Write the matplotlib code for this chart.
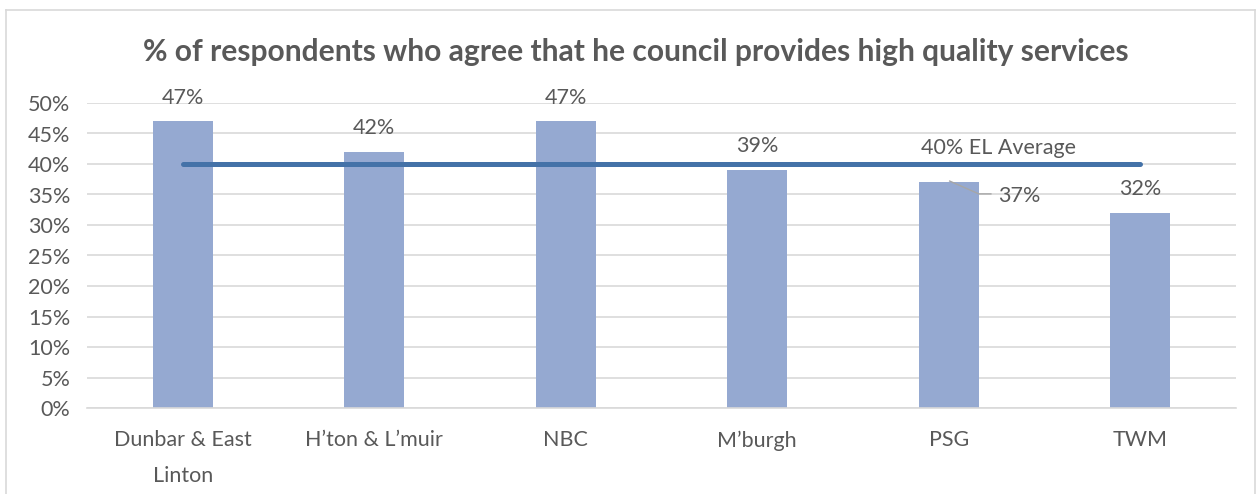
import matplotlib.pyplot as plt
import numpy as np
from matplotlib.lines import Line2D

# data
areas = ['Dunbar & East\nLinton', 'H\u2019ton & L\u2019muir', 'NBC', 'M\u2019burgh', 'PSG', 'TWM']
agree = [0.47, 0.42, 0.47, 0.39, 0.37, 0.32]
el_average = 0.40
yticks = [0, 0.05, 0.10, 0.15, 0.20, 0.25, 0.30, 0.35, 0.40, 0.45, 0.50]

plt.rcParams['font.family'] = ['Lato', 'DejaVu Sans']
text_col = '#595959'
bar_col = '#95a9d1'
line_col = '#4472a8'
fs = 15.5

fig = plt.figure(figsize=(12.6, 4.94), dpi=100, facecolor='white')
ax = fig.add_axes([87 / 1260, 1 - 408 / 494, (1236 - 87) / 1260, (408 - 103) / 494])

x = np.arange(len(areas))
ax.bar(x, agree, width=0.313, color=bar_col, zorder=2)
ax.plot([x[0], x[-1]], [el_average, el_average], color=line_col, lw=3.6,
        solid_capstyle='round', zorder=3)

# data labels
for i, v in enumerate(agree):
    if areas[i] == 'PSG':
        # label moved aside with leader line
        ax.plot([i + 0.005, i + 0.157, i + 0.22], [0.372, 0.351, 0.351],
                color='#a6a6a6', lw=1, zorder=4)
        ax.text(i + 0.37, 0.347, '%d%%' % round(v * 100), ha='center', va='center',
                fontsize=fs, color=text_col)
    else:
        ax.annotate('%d%%' % round(v * 100), (i, v), xytext=(0, 17),
                    textcoords='offset points', ha='center', va='center',
                    fontsize=fs, color=text_col)

ax.text(4.26, 0.427, '%d%% EL Average' % round(el_average * 100), ha='center',
        va='center', fontsize=fs, color=text_col)

ax.set_xlim(-0.5, len(areas) - 0.5)
ax.set_ylim(0, 0.5)
ax.set_yticks(yticks)
ax.set_yticklabels(['%d%%' % round(t * 100) for t in yticks])
ax.set_xticks(x)
ax.set_xticklabels(areas, linespacing=2.0)
ax.tick_params(axis='both', length=0, labelsize=fs, colors=text_col)
ax.tick_params(axis='x', pad=16)
ax.tick_params(axis='y', pad=12)
ax.grid(axis='y', color='#d9d9d9', lw=1.2, zorder=0)
ax.set_axisbelow(True)
for s in ['top', 'right', 'left']:
    ax.spines[s].set_visible(False)
ax.spines['bottom'].set_color('#d9d9d9')
ax.spines['bottom'].set_linewidth(1.2)

fig.text(636 / 1260, 1 - 52 / 494,
         '% of respondents who agree that he council provides high quality services',
         ha='center', va='center', fontsize=21.6, fontweight='bold', color=text_col)

# chart border
bc = '#d9d9d9'
fig.add_artist(Line2D([6 / 1260, 6 / 1260], [0, 1 - 10 / 494], color=bc, lw=1.2))
fig.add_artist(Line2D([6 / 1260, 1255 / 1260], [1 - 10 / 494, 1 - 10 / 494], color=bc, lw=1.2))
fig.add_artist(Line2D([1255 / 1260, 1255 / 1260], [0, 1 - 10 / 494], color=bc, lw=1.2))

plt.savefig('out.png', dpi=100, facecolor='white')
